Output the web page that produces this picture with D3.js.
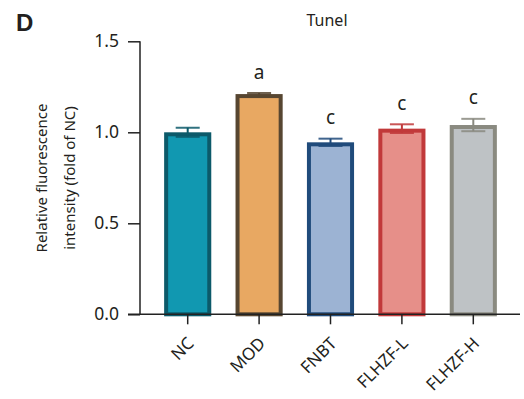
<!DOCTYPE html>
<html><head><meta charset="utf-8">
<script src="https://cdn.jsdelivr.net/npm/d3@7"></script>
<style>body{margin:0;background:#fff}svg{display:block}text{font-family:"Noto Sans","Open Sans",sans-serif;fill:#231f20}</style>
</head><body><svg id="c" width="524" height="399"></svg>
<script>
const categories = ["NC","MOD","FNBT","FLHZF-L","FLHZF-H"];
const means = [1.00, 1.21, 0.945, 1.02, 1.04];
const sems = [0.025, 0.006, 0.02, 0.024, 0.034];
const letters = ["", "a", "c", "c", "c"];
const yTicks = [0, 0.5, 1.0, 1.5];
const fills = ["#1198b1","#e8a862","#9cb3d3","#e68f89","#bec2c5"];
const strokes = ["#0c5a6a","#574631","#204b7b","#c1393a","#8a8a80"];

const svg = d3.select("#c");
const y = d3.scaleLinear().domain([0,1.5]).range([314.3,41.3]);
const x = d3.scaleBand().domain(categories).range([152,509]).paddingInner(0.34).paddingOuter(0.17);
const sw = 4;

const g = svg.append("g");
categories.forEach((c,i)=>{
  const x0 = x(c), bw = x.bandwidth();
  g.append("rect").attr("x",x0+sw/2).attr("y",y(means[i])+sw/2)
   .attr("width",bw-sw).attr("height",y(0)-y(means[i])-sw/2)
   .attr("fill",fills[i]).attr("stroke",strokes[i]).attr("stroke-width",sw);
  const cx = x0+bw/2;
  const hi = y(means[i]+sems[i]), lo = y(means[i]-sems[i]);
  g.append("line").attr("x1",cx).attr("x2",cx).attr("y1",hi).attr("y2",lo).attr("stroke",strokes[i]).attr("stroke-width",2);
  g.append("line").attr("x1",cx-12).attr("x2",cx+12).attr("y1",hi).attr("y2",hi).attr("stroke",strokes[i]).attr("stroke-width",2).attr("opacity",0.85);
  g.append("line").attr("x1",cx-12).attr("x2",cx+12).attr("y1",lo).attr("y2",lo).attr("stroke",strokes[i]).attr("stroke-width",2).attr("opacity",0.85);
  if(letters[i]) svg.append("text").attr("x",cx).attr("y",hi-21).attr("dy","0.35em")
     .attr("text-anchor","middle").style("font-size","19px").text(letters[i]);
});

const ya = svg.append("g").attr("transform","translate(140,0)")
  .call(d3.axisLeft(y).tickValues(yTicks).tickFormat(d3.format(".1f")).tickSize(12).tickPadding(9));
ya.select(".domain").attr("stroke","#222").attr("stroke-width",1.5).attr("d","M0,"+y(1.5)+"V"+y(0));
ya.selectAll(".tick line").attr("stroke","#222").attr("stroke-width",1.5);
ya.selectAll(".tick text").style("font-size","17.5px").attr("fill","#231f20");

const xa = svg.append("g").attr("transform","translate(0,"+y(0)+")")
  .call(d3.axisBottom(x).tickSize(10).tickFormat(""));
xa.select(".domain").attr("stroke","#222").attr("stroke-width",1.5).attr("d","M128,0H520");
xa.selectAll(".tick line").attr("stroke","#222").attr("stroke-width",1.5);
xa.selectAll(".tick").append("text")
  .attr("transform","translate(3,26) rotate(-45)")
  .attr("text-anchor","end").attr("dy","0.35em").attr("fill","#231f20")
  .style("font-size","17px").text(d=>d);

const ylab = svg.append("text").attr("transform","translate(0,178) rotate(-90)").attr("text-anchor","middle").style("font-size","15px");
ylab.append("tspan").attr("x",0).attr("y",42).attr("dy","0.35em").text("Relative fluorescence");
ylab.append("tspan").attr("x",0).attr("y",70).attr("dy","0.35em").text("intensity (fold of NC)");

svg.append("text").attr("x",327).attr("y",26).attr("text-anchor","middle").style("font-size","16px").text("Tunel");
svg.append("text").attr("x",16).attr("y",31).style("font-family","'Liberation Sans',Arial,sans-serif").style("font-weight","bold").style("font-size","24px").attr("fill","#000").text("D");
</script></body></html>
